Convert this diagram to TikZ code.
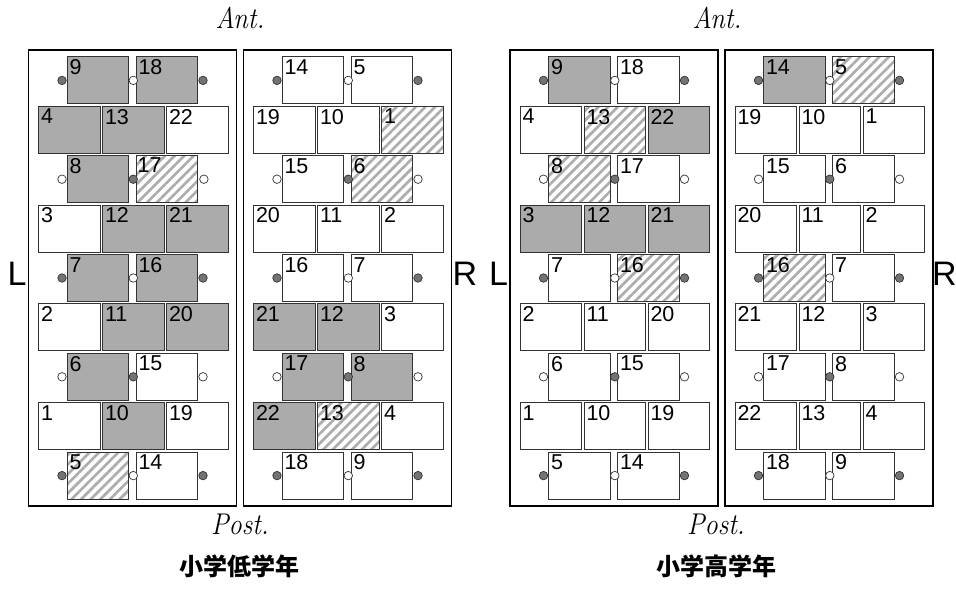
\documentclass[tikz,border=0pt]{standalone}
\usepackage{fontspec}
\setsansfont{Liberation Sans}
\newfontfamily\cjkfont{Noto Sans CJK JP}
\usetikzlibrary{positioning,calc,patterns.meta}

\tikzset{
  seat/.style={draw=black!80, line width=0.9pt, minimum width=61.5pt, minimum height=47pt, inner sep=0pt},
  seatgray/.style={seat, fill=black!33},
  seatwhite/.style={seat, fill=white},
  seathatch/.style={seat, pattern={Lines[angle=45,distance=6.8pt,line width=2.7pt]}, pattern color=black!32},
  num/.style={anchor=north west, inner xsep=2.5pt, inner ysep=3pt, font=\sffamily\fontsize{21.5}{21.5}\selectfont},
  peg/.style={circle, draw=black!80, line width=0.7pt, minimum size=8.5pt, inner sep=0pt},
  pegdark/.style={peg, fill=black!55},
  peglight/.style={peg, fill=white},
  panel/.style={draw, line width=1.6pt, minimum width=208pt, minimum height=456pt, inner sep=0pt},
  side/.style={font=\sffamily\fontsize{34}{34}\selectfont, inner sep=0pt},
  axis/.style={font=\itshape\fontsize{30}{30}\selectfont, inner sep=0pt},
  grade/.style={font=\cjkfont\bfseries\fontsize{24}{24}\selectfont, inner sep=0pt}
}

% a row of two seats and a row of three seats
\newcommand{\seatpair}[6]{%
  \node[seat#4, label={[num]north west:#3}] (#1-#2-a) at ($(#1.center)+(-34.5,{49.4*(#2-5)})$) {};
  \node[seat#6, label={[num]north west:#5}] (#1-#2-b) at ($(#1.center)+(34.5,{49.4*(#2-5)})$) {};
}
\newcommand{\seattrio}[8]{%
  \node[seat#4, label={[num]north west:#3}] (#1-#2-a) at ($(#1.center)+(-63,{49.4*(#2-5)})$) {};
  \node[seat#6, label={[num]north west:#5}] (#1-#2-b) at ($(#1.center)+(1,{49.4*(#2-5)})$) {};
  \node[seat#8, label={[num]north west:#7}] (#1-#2-c) at ($(#1.center)+(65,{49.4*(#2-5)})$) {};
}

\begin{document}
\begin{tikzpicture}[x=1pt, y=-1pt]
\useasboundingbox (0,0) rectangle (956,590);
% Panels
\node[panel] (p1) at (132.5,278) {};
\node[panel] (p2) at (347.5,278) {};
\node[panel] (p3) at (614,278) {};
\node[panel] (p4) at (829,278) {};
% Lower grades, left side
\foreach \r/\a/\fa/\b/\fb in {1/9/gray/18/gray, 3/8/gray/17/hatch, 5/7/gray/16/gray, 7/6/gray/15/white, 9/5/hatch/14/white}
  {\seatpair{p1}{\r}{\a}{\fa}{\b}{\fb}}
\foreach \r/\a/\fa/\b/\fb/\c/\fc in {2/4/gray/13/gray/22/white, 4/3/white/12/gray/21/gray, 6/2/white/11/gray/20/gray, 8/1/white/10/gray/19/white}
  {\seattrio{p1}{\r}{\a}{\fa}{\b}{\fb}{\c}{\fc}}
% Lower grades, right side
\foreach \r/\a/\fa/\b/\fb in {1/14/white/5/white, 3/15/white/6/hatch, 5/16/white/7/white, 7/17/gray/8/gray, 9/18/white/9/white}
  {\seatpair{p2}{\r}{\a}{\fa}{\b}{\fb}}
\foreach \r/\a/\fa/\b/\fb/\c/\fc in {2/19/white/10/white/1/hatch, 4/20/white/11/white/2/white, 6/21/gray/12/gray/3/white, 8/22/gray/13/hatch/4/white}
  {\seattrio{p2}{\r}{\a}{\fa}{\b}{\fb}{\c}{\fc}}
% Upper grades, left side
\foreach \r/\a/\fa/\b/\fb in {1/9/gray/18/white, 3/8/hatch/17/white, 5/7/white/16/hatch, 7/6/white/15/white, 9/5/white/14/white}
  {\seatpair{p3}{\r}{\a}{\fa}{\b}{\fb}}
\foreach \r/\a/\fa/\b/\fb/\c/\fc in {2/4/white/13/hatch/22/gray, 4/3/gray/12/gray/21/gray, 6/2/white/11/white/20/white, 8/1/white/10/white/19/white}
  {\seattrio{p3}{\r}{\a}{\fa}{\b}{\fb}{\c}{\fc}}
% Upper grades, right side
\foreach \r/\a/\fa/\b/\fb in {1/14/gray/5/hatch, 3/15/white/6/white, 5/16/hatch/7/white, 7/17/white/8/white, 9/18/white/9/white}
  {\seatpair{p4}{\r}{\a}{\fa}{\b}{\fb}}
\foreach \r/\a/\fa/\b/\fb/\c/\fc in {2/19/white/10/white/1/white, 4/20/white/11/white/2/white, 6/21/white/12/white/3/white, 8/22/white/13/white/4/white}
  {\seattrio{p4}{\r}{\a}{\fa}{\b}{\fb}{\c}{\fc}}
% Pegs beside the pairs
\foreach \p in {p1,p2,p3,p4}
  \foreach \r/\o/\m in {1/pegdark/peglight, 3/peglight/pegdark, 5/pegdark/peglight, 7/peglight/pegdark, 9/pegdark/peglight} {
    \node[\o, left=0.2pt of \p-\r-a] (\p-\r-l) {};
    \node[\m, right=-0.5pt of \p-\r-a] (\p-\r-m) {};
    \node[\o, right=0.2pt of \p-\r-b] (\p-\r-r) {};
  }
% Labels
\node[side] (L1) at (17,274) {L};
\node[side] (R1) at (465,274) {R};
\node[side] (L2) at (498.5,274) {L};
\node[side] (R2) at (944.5,274) {R};
\node[axis] (ant1) at (240,18) {\scalebox{0.88}[1]{Ant.}};
\node[axis] (ant2) at (717,18) {\scalebox{0.88}[1]{Ant.}};
\node[axis] (post1) at (240,524) {\scalebox{0.88}[1]{Post.}};
\node[axis] (post2) at (716,524) {\scalebox{0.88}[1]{Post.}};
\node[grade] (low) at (239,566) {小学低学年};
\node[grade] (high) at (716,566) {小学高学年};
\end{tikzpicture}
\end{document}
